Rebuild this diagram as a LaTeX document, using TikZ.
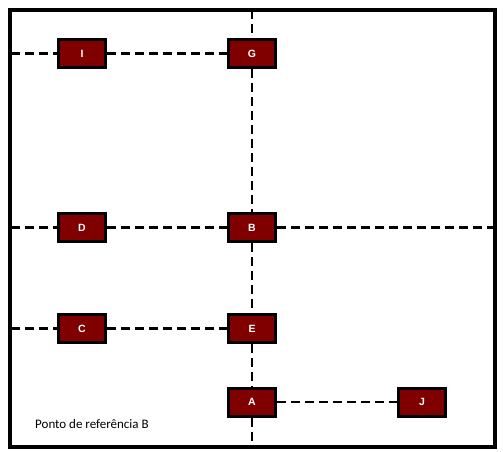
\documentclass[tikz,border=0pt]{standalone}
\usepackage{fontspec}
\setmainfont{Carlito}
\newfontfamily\boxfont{Liberation Sans}
\begin{document}
\begin{tikzpicture}[x=1pt,y=-1pt,
  box/.style={draw=black,line width=3pt,fill={rgb,255:red,128;green,0;blue,0},minimum width=47pt,minimum height=28pt,inner sep=0pt,font=\boxfont\bfseries\fontsize{10.5}{12}\selectfont,text=white},
  link/.style={line width=2.6pt,dash pattern=on 9pt off 5pt}]
\useasboundingbox (0,0) rectangle (503,452);
% frame corners / edge coordinates
\coordinate (tl) at (9.5,10);
\coordinate (br) at (495,447);
\coordinate (top) at (252,10);
\coordinate (bot) at (252,447);
\coordinate (lI) at (11,53.5);
\coordinate (lD) at (11,227.5);
\coordinate (rD) at (493,227.5);
\coordinate (lC) at (11,328.5);
% nodes
\node[box] (I) at (82,53.5) {I};
\node[box] (G) at (252,53.5) {G};
\node[box] (D) at (82,227.5) {D};
\node[box] (B) at (252,227.5) {B};
\node[box] (C) at (82,328.5) {C};
\node[box] (E) at (252,328.5) {E};
\node[box] (A) at (252,402) {A};
\node[box] (J) at (422,402) {J};
% connectors
\draw[link] (lI) -- (I);
\draw[link] (I) -- (G);
\draw[link] (lD) -- (D);
\draw[link] (D) -- (B);
\draw[link] (B) -- (rD);
\draw[link] (lC) -- (C);
\draw[link] (C) -- (E);
\draw[link] (A) -- (J);
\draw[link] (top) -- (G);
\draw[link] (G) -- (B);
\draw[link] (B) -- (E);
\draw[link] (E) -- (A);
\draw[link] (A) -- (bot);
% frame
\draw[line width=4pt] (tl) rectangle (br);
\node[anchor=west,font=\fontsize{13}{15}\selectfont,inner sep=0pt] (lbl) at (35,424.5) {Ponto de referência B};
\end{tikzpicture}
\end{document}
